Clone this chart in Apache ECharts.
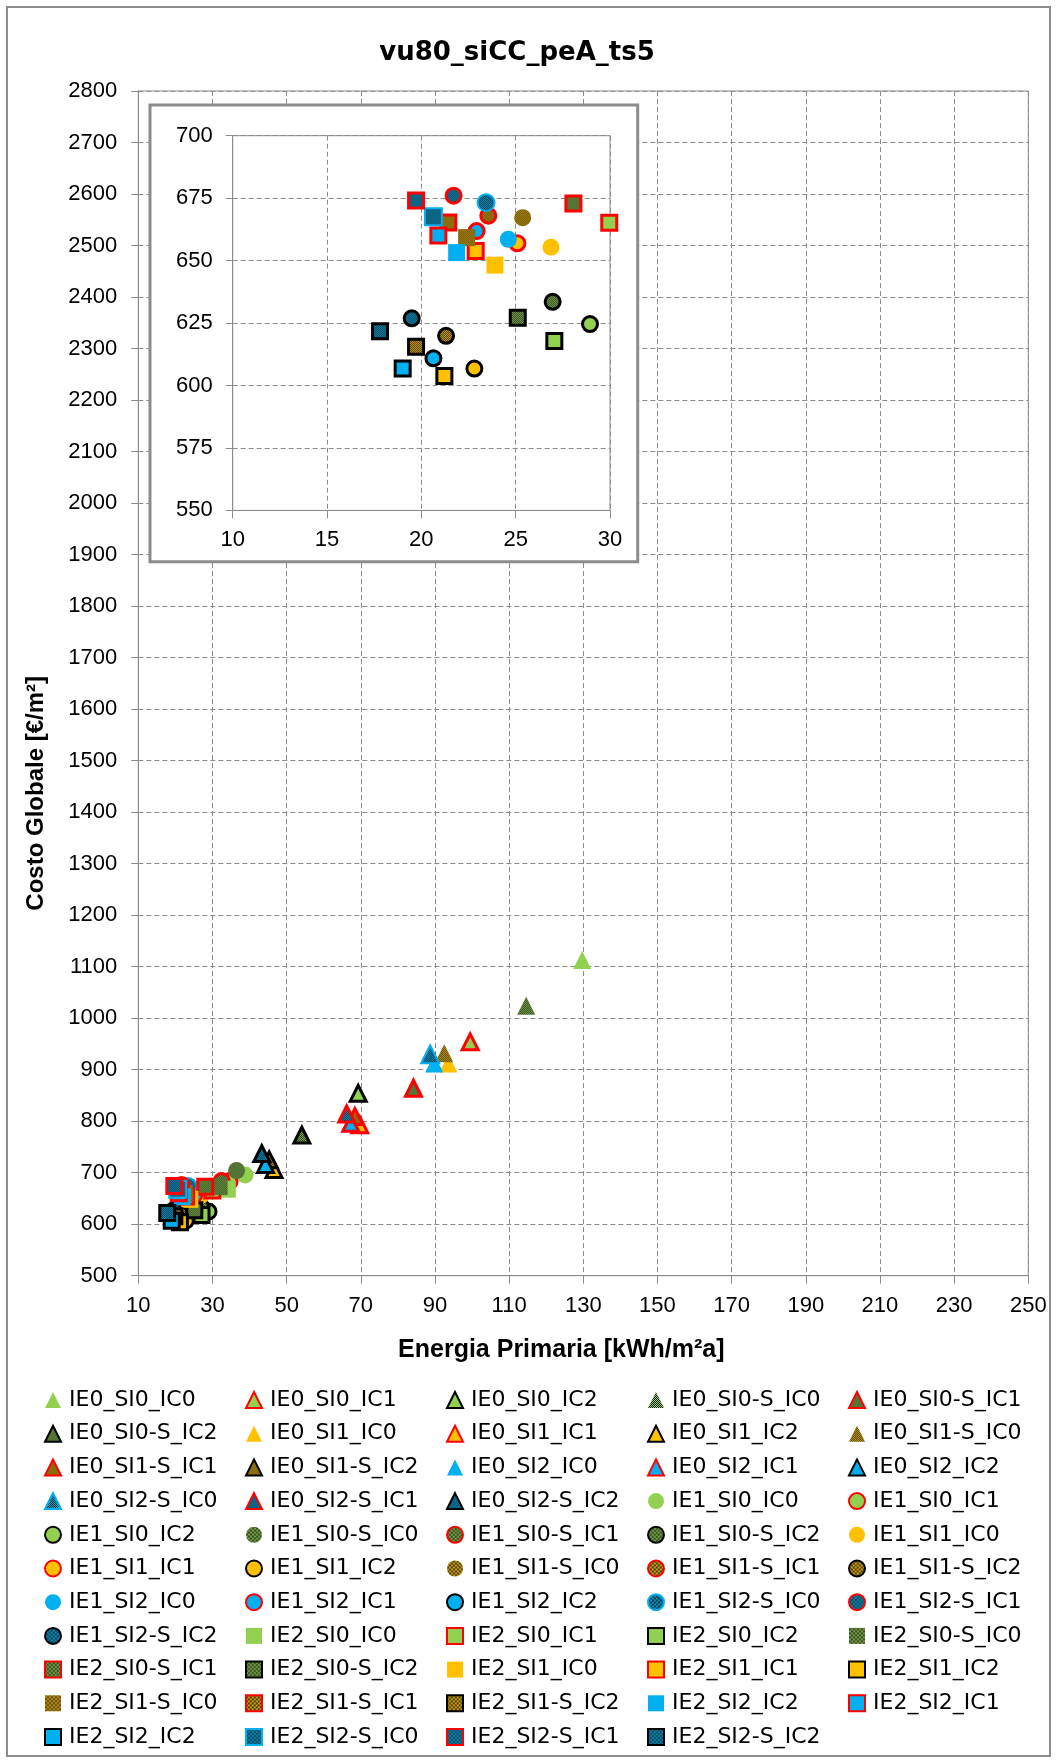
<!DOCTYPE html>
<html><head><meta charset="utf-8">
<script src="https://cdn.jsdelivr.net/npm/echarts@6/dist/echarts.min.js"></script>
<style>html,body{margin:0;padding:0;background:#fff}#c{width:1056px;height:1761px}</style>
</head><body><div id="c"></div>
<script>
// ---------- DATA ----------
const ie0Names = ['IE0_SI0_IC0','IE0_SI0_IC1','IE0_SI0_IC2','IE0_SI0-S_IC0','IE0_SI0-S_IC1','IE0_SI0-S_IC2',
  'IE0_SI1_IC0','IE0_SI1_IC1','IE0_SI1_IC2','IE0_SI1-S_IC0','IE0_SI1-S_IC1','IE0_SI1-S_IC2',
  'IE0_SI2_IC0','IE0_SI2_IC1','IE0_SI2_IC2','IE0_SI2-S_IC0','IE0_SI2-S_IC1','IE0_SI2-S_IC2'];
const ie0Energy = [129.7, 99.5, 69.3, 114.6, 84.2, 54.1, 93.6, 69.7, 46.6, 92.5, 68.4, 45.3, 89.8, 67.3, 44.3, 88.7, 66.2, 43.3];
const ie0Cost   = [1113, 954, 854, 1024, 864, 773, 912, 793, 706, 932, 809, 725, 912, 796, 716, 930, 814, 737];

const ie1Names = ['IE1_SI0_IC0','IE1_SI0_IC1','IE1_SI0_IC2','IE1_SI0-S_IC0','IE1_SI0-S_IC1','IE1_SI0-S_IC2',
  'IE1_SI1_IC0','IE1_SI1_IC1','IE1_SI1_IC2','IE1_SI1-S_IC0','IE1_SI1-S_IC1','IE1_SI1-S_IC2',
  'IE1_SI2_IC0','IE1_SI2_IC1','IE1_SI2_IC2','IE1_SI2-S_IC0','IE1_SI2-S_IC1','IE1_SI2-S_IC2'];
const ie1Energy = [38.8, 34.6, 28.94, 36.5, 32.5, 26.96, 26.87, 25.09, 22.81, 25.37, 23.55, 21.31, 24.61, 22.93, 20.64, 23.43, 21.71, 19.49];
const ie1Cost   = [695.5, 683, 624.6, 704, 684, 633.5, 655.3, 656.9, 606.8, 667.2, 668.0, 619.9, 658.5, 661.8, 610.9, 673.2, 676.0, 626.9];

const ie2Names = ['IE2_SI0_IC0','IE2_SI0_IC1','IE2_SI0_IC2','IE2_SI0-S_IC0','IE2_SI0-S_IC1','IE2_SI0-S_IC2',
  'IE2_SI1_IC0','IE2_SI1_IC1','IE2_SI1_IC2','IE2_SI1-S_IC0','IE2_SI1-S_IC1','IE2_SI1-S_IC2',
  'IE2_SI2_IC2\u200b','IE2_SI2_IC1','IE2_SI2_IC2','IE2_SI2-S_IC0','IE2_SI2-S_IC1','IE2_SI2-S_IC2'];
const ie2Energy = [34.0, 29.96, 27.05, 31.8, 28.06, 25.11, 23.90, 22.88, 21.22, 22.40, 21.43, 19.72, 21.87, 20.90, 19.01, 20.64, 19.72, 17.81];
const ie2Cost   = [668, 665.2, 617.8, 673, 672.9, 627.1, 648.2, 653.8, 603.8, 659.2, 665.3, 615.5, 653.2, 660.0, 606.8, 667.6, 674.1, 621.7];

const mainXTicks = {min: 10, max: 250, step: 20};
const mainYTicks = {min: 500, max: 2800, step: 100};
const insetXTicks = {min: 10, max: 30, step: 5};
const insetYTicks = {min: 550, max: 700, step: 25};

// ---------- STYLE ----------
const baseColors = ['#92d050', '#ffc000', '#00b0f0'];
function makePattern(hex, scale) {
  const c = document.createElement('canvas');
  c.width = 2; c.height = 2;
  const g = c.getContext('2d');
  g.fillStyle = '#1a1a1a'; g.fillRect(0, 0, 2, 2);
  g.fillStyle = hex; g.fillRect(0, 0, 1, 1); g.fillRect(1, 1, 1, 1);
  return {image: c, repeat: 'repeat', scaleX: scale, scaleY: scale};
}

const groups = [
  {names: ie0Names, x: ie0Energy, y: ie0Cost, symbol: 'triangle'},
  {names: ie1Names, x: ie1Energy, y: ie1Cost, symbol: 'circle'},
  {names: ie2Names, x: ie2Energy, y: ie2Cost, symbol: 'rect'}
];

const series = [];
const insetSeries = [];
const allNames = [];
groups.forEach(function (g) {
  g.names.forEach(function (name, i) {
    const si = Math.floor(i / 6);
    const pat = Math.floor(i / 3) % 2 === 1;
    const ic = i % 3;
    let size;
    if (g.symbol === 'triangle') size = ic > 0 ? 16 : 18;
    else size = ic > 0 ? 15 : 17;
    const fill = pat ? makePattern(baseColors[si], 2 / size) : baseColors[si];
    let borderColor = 'transparent', borderWidth = 0;
    if (ic === 1) { borderColor = '#ff0000'; borderWidth = 3; }
    else if (ic === 2) { borderColor = '#000000'; borderWidth = 3; }
    else if (pat && si === 2) { borderColor = '#00b0f0'; borderWidth = 2; }
    const base = {
      type: 'scatter', name: name, symbol: g.symbol, symbolSize: size,
      itemStyle: {color: fill, borderColor: borderColor, borderWidth: borderWidth, opacity: 1},
      emphasis: {disabled: true}, animation: false,
      data: [[g.x[i], g.y[i]]]
    };
    series.push(Object.assign({}, base, {xAxisIndex: 0, yAxisIndex: 0, z: 2}));
    insetSeries.push(Object.assign({}, base, {xAxisIndex: 1, yAxisIndex: 1, z: 13, clip: true}));
    allNames.push(name);
  });
});

const gridColor = '#8c8c8c';
const labelFont = {fontFamily: 'Liberation Sans, Arial', fontSize: 22, color: '#000'};
function valueAxis(gridIndex, t, margin, tickLen, z, extra) {
  return Object.assign({
    type: 'value', gridIndex: gridIndex, min: t.min, max: t.max, interval: t.step, z: z,
    axisLine: {show: true, onZero: false, lineStyle: {color: gridColor, width: 1}},
    axisTick: {show: true, length: tickLen, lineStyle: {color: gridColor}},
    axisLabel: Object.assign({margin: margin, formatter: function (v) { return String(v); }}, labelFont),
    splitLine: {show: true, lineStyle: {color: gridColor, type: [5, 3], width: 1}}
  }, extra || {});
}

const legends = [];
for (let k = 0; k < 5; k++) {
  legends.push({
    orient: 'vertical', left: 44 + 201 * k, top: 1388, padding: 0,
    itemWidth: 16, itemHeight: 16, itemGap: 9.7, selectedMode: false,
    data: allNames.filter(function (_, j) { return j % 5 === k; }),
    textStyle: {fontFamily: 'DejaVu Sans', fontSize: 22, color: '#000', lineHeight: 24, padding: [0, 0, 0, 3]}
  });
}

const option = {
  backgroundColor: '#fff',
  animation: false,
  title: {
    text: 'vu80_siCC_peA_ts5', left: 517, top: 40, padding: 0, textAlign: 'center',
    textStyle: {fontFamily: 'DejaVu Sans', fontWeight: 'bold', fontSize: 26, color: '#000'}
  },
  legend: legends,
  grid: [
    {left: 138.3, top: 91, width: 890, height: 1184.7, show: true, borderColor: gridColor, borderWidth: 1,
     backgroundColor: 'transparent', containLabel: false, outerBoundsMode: 'none'},
    {left: 232.7, top: 135.7, width: 377.3, height: 374.7, show: true, borderColor: gridColor, borderWidth: 1,
     backgroundColor: '#fff', z: 11, containLabel: false, outerBoundsMode: 'none'}
  ],
  xAxis: [
    valueAxis(0, mainXTicks, 19, 8, 1, {
      name: 'Energia Primaria [kWh/m²a]', nameLocation: 'middle', nameGap: 62, nameMoveOverlap: false,
      nameTextStyle: {fontFamily: 'Liberation Sans, Arial', fontWeight: 'bold', fontSize: 25, color: '#000', padding: [0, 44, 0, 0]}
    }),
    valueAxis(1, insetXTicks, 19, 8, 12)
  ],
  yAxis: [
    valueAxis(0, mainYTicks, 21, 7, 1, {
      name: 'Costo Globale [€/m²]', nameLocation: 'middle', nameGap: 90, nameMoveOverlap: false,
      nameTextStyle: {fontFamily: 'Liberation Sans, Arial', fontWeight: 'bold', fontSize: 24, color: '#000', padding: [0, 220, 0, 0]}
    }),
    valueAxis(1, insetYTicks, 20, 7, 12)
  ],
  graphic: [
    {type: 'rect', silent: true, z: 0, shape: {x: 7, y: 7, width: 1043, height: 1749},
     style: {fill: 'none', stroke: '#8c8c8c', lineWidth: 2}},
    {type: 'rect', silent: true, z: 10, shape: {x: 150, y: 105, width: 487.7, height: 456.7},
     style: {fill: '#fff', stroke: '#8c8c8c', lineWidth: 3}}
  ],
  series: series.concat(insetSeries)
};

const chart = echarts.init(document.getElementById('c'), null, {renderer: 'canvas'});
chart.setOption(option);
</script></body></html>
